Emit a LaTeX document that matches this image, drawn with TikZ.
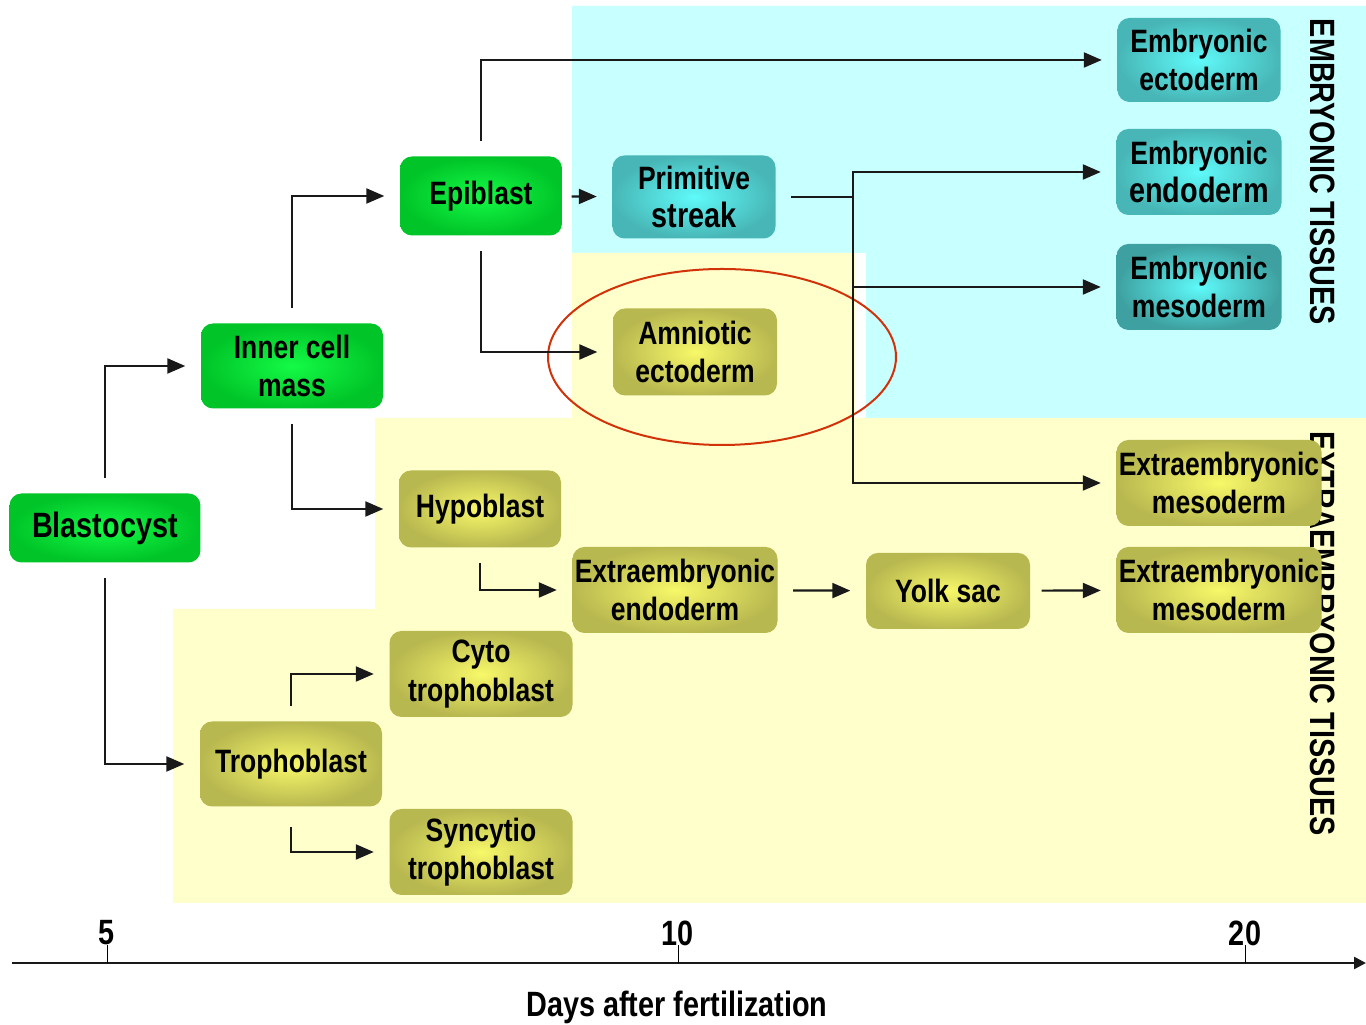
\documentclass[tikz,border=0pt]{standalone}
\usepackage{fontspec}
\setmainfont{Liberation Sans}[FakeStretch=0.82]
\usepackage{tikz}
\usetikzlibrary{shapes,arrows,positioning,fit,backgrounds,calc,arrows.meta}
\definecolor{greenin}{RGB}{20,250,70}
\definecolor{greenout}{RGB}{0,196,40}
\definecolor{tealin}{RGB}{95,250,250}
\definecolor{tealout}{RGB}{72,182,182}
\definecolor{tealdark}{RGB}{62,160,160}
\definecolor{olivein}{RGB}{248,248,105}
\definecolor{oliveout}{RGB}{184,184,80}
\definecolor{cyanbg}{RGB}{200,255,255}
\definecolor{yellowbg}{RGB}{255,255,204}
\definecolor{ringred}{RGB}{210,50,10}
\tikzstyle{arrow} = [-{Triangle[length=1.8mm,width=1.5mm]}, line width=0.22mm, draw=black!90, shorten <=1.5mm, shorten >=1.5mm]
\tikzstyle{box} = [rectangle, rounded corners=1.2mm, align=center, inner sep=0pt, font=\bfseries\fontsize{9.2}{11}\selectfont]
\tikzstyle{greenbox} = [box, shading=radial, inner color=greenin, outer color=greenout]
\tikzstyle{tealbox} = [box, shading=radial, inner color=tealin, outer color=tealout]
\tikzstyle{olivebox} = [box, shading=radial, inner color=olivein, outer color=oliveout]
\newcommand{\bigline}[1]{{\fontsize{10}{12}\selectfont #1}}

\begin{document}
\begin{tikzpicture}[x=0.1mm, y=-0.1mm]
    \useasboundingbox (0,0) rectangle (1366,1025);

    % Background areas
    \fill[cyanbg] (572,6) -- (1366,6) -- (1366,418) -- (866,418) -- (866,253) -- (572,253) -- cycle;
    \fill[yellowbg] (572,253) -- (855,253) -- (855,418) -- (1366,418) -- (1366,903) -- (173,903)
        -- (173,609) -- (375,609) -- (375,418) -- (572,418) -- cycle;

    % Side labels
    \node[rotate=-90, font=\bfseries\fontsize{10}{12}\selectfont] (embtis) at (1323,172) {EMBRYONIC TISSUES};
    \node[rotate=-90, font=\bfseries\fontsize{10}{12}\selectfont] (extratis) at (1323,634) {EXTRAEMBRYONIC TISSUES};

    % Early stages
    \node[greenbox, minimum width=19.1mm, minimum height=6.9mm] (blast) at (105,528) {\bigline{Blastocyst}};
    \node[greenbox, minimum width=18.2mm, minimum height=8.5mm] (icm) at (292,366) {Inner cell\\mass};
    \node[greenbox, minimum width=16.2mm, minimum height=7.9mm] (epi) at (481,196) {Epiblast};
    \node[olivebox, minimum width=16.2mm, minimum height=7.7mm] (hypo) at (480,509) {Hypoblast};
    \node[olivebox, minimum width=18.2mm, minimum height=8.5mm] (tropho) at (291,764) {Trophoblast};
    \node[olivebox, minimum width=18.3mm, minimum height=8.6mm] (cyto) at (481,674) {Cyto\\trophoblast};
    \node[olivebox, minimum width=18.3mm, minimum height=8.6mm] (syncy) at (481,852) {Syncytio\\trophoblast};

    % Middle stages
    \node[tealbox, minimum width=16.3mm, minimum height=8.3mm] (ps) at (694,197) {Primitive\\\bigline{streak}};
    \node[olivebox, minimum width=16.4mm, minimum height=8.7mm] (amnio) at (695,352) {Amniotic\\ectoderm};
    \node[olivebox, minimum width=20.5mm, minimum height=8.6mm] (xendo) at (675,590) {Extraembryonic\\endoderm};
    \node[olivebox, minimum width=16.4mm, minimum height=7.6mm] (yolk) at (948,591) {Yolk sac};

    % Final tissues
    \node[tealbox, minimum width=16.3mm, minimum height=8.4mm] (ecto) at (1199,60) {Embryonic\\ectoderm};
    \node[tealbox, minimum width=16.5mm, minimum height=8.6mm] (endo) at (1199,172) {Embryonic\\\bigline{endoderm}};
    \node[tealbox, outer color=tealdark, minimum width=16.5mm, minimum height=8.6mm] (meso) at (1199,287) {Embryonic\\mesoderm};
    \node[olivebox, minimum width=20.5mm, minimum height=8.6mm] (xmeso1) at (1219,483) {Extraembryonic\\mesoderm};
    \node[olivebox, minimum width=20.5mm, minimum height=8.6mm] (xmeso2) at (1219,590) {Extraembryonic\\mesoderm};

    % Ring round amniotic ectoderm
    \node[ellipse, draw=ringred, line width=0.2mm, minimum width=34.8mm, minimum height=17.6mm] (ring) at (722,357) {};

    % Arrows
    \draw[arrow] (blast.north) |- (icm.west);
    \draw[arrow] (blast.south) |- (tropho.west);
    \draw[arrow] (icm.north) |- (epi.west);
    \draw[arrow] (icm.south) |- (hypo.west);
    \draw[arrow] (epi.north) |- (ecto.west);
    \draw[arrow, shorten <=0.9mm] (epi) -- (ps);
    \draw[arrow] (epi.south) |- (amnio.west);
    \draw[arrow] (hypo.south) |- (xendo.west);
    \draw[arrow] (xendo) -- (yolk);
    \draw[arrow, shorten <=1.1mm] (yolk) -- (xmeso2);
    \draw[arrow] (tropho.north) |- (cyto.west);
    \draw[arrow, shorten <=2mm] (tropho.south) |- (syncy.west);

    % Fork from primitive streak
    \coordinate (fork) at (853,197);
    \draw[line width=0.22mm, draw=black!90, shorten <=1.5mm] (ps.east) -- (fork);
    \draw[arrow, shorten <=0mm] (fork) |- (endo.west);
    \draw[arrow, shorten <=0mm] (fork) |- (meso.west);
    \draw[arrow, shorten <=0mm] (fork) |- (xmeso1.west);

    % Time axis
    \coordinate (axstart) at (12,963);
    \coordinate (axend) at (1366,963);
    \draw[line width=0.25mm, draw=black!90, -{Triangle[length=1.2mm,width=1.2mm]}] (axstart) -- (axend);
    \node[font=\bfseries\fontsize{10}{12}\selectfont] (day5) at (107,933) {5};
    \node[font=\bfseries\fontsize{10}{12}\selectfont] (day10) at (678,933) {10};
    \node[font=\bfseries\fontsize{10}{12}\selectfont] (day20) at (1245,933) {20};
    \draw[line width=0.1mm] (day5.center |- axstart) -- ++(0,-18);
    \draw[line width=0.1mm] (day10.center |- axstart) -- ++(0,-18);
    \draw[line width=0.1mm] (day20.center |- axstart) -- ++(0,-18);
    \node[font=\bfseries\fontsize{10}{12}\selectfont] (daystitle) at (677,1007) {Days after fertilization};
\end{tikzpicture}
\end{document}
